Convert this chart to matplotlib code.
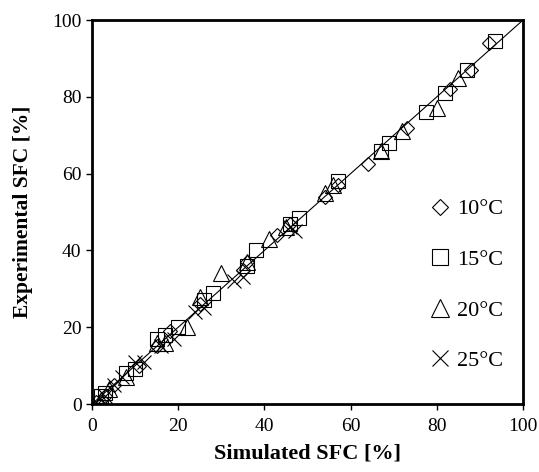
import matplotlib.pyplot as plt

# Simulated vs experimental SFC [%] per temperature
sim_10 = [92, 88, 83, 73, 64, 57, 54, 46, 43, 36, 35, 25, 18, 15, 11, 5, 3, 1]
exp_10 = [94, 87, 82, 72, 62.5, 57, 54, 47, 44, 37, 35, 26, 19, 15, 10, 5, 2, 0.5]

sim_15 = [93.5, 87, 82, 77.5, 69, 67, 57, 48, 46, 38, 36, 26, 28, 20, 17, 15, 10, 8, 3, 2]
exp_15 = [94.5, 87, 81, 76, 68, 66, 58, 48.5, 47, 40, 36, 27, 29, 20, 18, 17, 9, 8, 3, 2]

sim_20 = [85, 80, 72, 67, 56, 54, 45, 41, 36, 30, 25, 22, 17, 15, 8, 4, 2]
exp_20 = [85, 77, 71, 66, 57, 55, 46, 43, 37, 34, 28, 20, 16, 16, 7, 4, 1]

sim_25 = [47, 46, 35, 33, 26, 24, 19, 16, 12, 10, 7, 5, 3, 1, 0.5]
exp_25 = [45, 46, 33, 32, 25, 24, 17, 15, 11, 11, 7, 5, 2, 0.5, 0]

labels = ['10°C', '15°C', '20°C', '25°C']

plt.rcParams['font.family'] = ['Liberation Serif', 'DejaVu Serif']

fig = plt.figure(figsize=(5.39, 4.72), dpi=100)
ax = fig.add_axes([0.1707, 0.144, 0.7997, 0.8136])

ax.plot([0, 100], [0, 100], color='black', lw=0.8, zorder=1)

style = dict(linestyle='none', markerfacecolor='none', markeredgecolor='black',
             markeredgewidth=0.8, color='black')
ax.plot(sim_10, exp_10, marker='D', markersize=7, label=labels[0], **style)
ax.plot(sim_15, exp_15, marker='s', markersize=10, label=labels[1], **style)
ax.plot(sim_20, exp_20, marker='^', markersize=11, label=labels[2], **style)
ax.plot(sim_25, exp_25, marker='x', markersize=10, label=labels[3], **style)

ax.set_xlim(0, 100)
ax.set_ylim(0, 100)
ax.set_xticks(range(0, 101, 20))
ax.set_yticks(range(0, 101, 20))
ax.tick_params(direction='out', length=4, width=1, labelsize=14)
ax.tick_params(axis='x', pad=6)
for s in ax.spines.values():
    s.set_linewidth(2)

ax.set_xlabel('Simulated SFC [%]', fontsize=16, fontweight='bold', labelpad=6)
ax.set_ylabel('Experimental SFC [%]', fontsize=15.5, fontweight='bold', labelpad=14)

ax.legend(loc='center right', bbox_to_anchor=(1.0, 0.31), frameon=False,
          fontsize=16, labelspacing=1.35, handletextpad=0.15, handlelength=1.2,
          markerscale=1.15)

fig.savefig('out.png', dpi=100)
